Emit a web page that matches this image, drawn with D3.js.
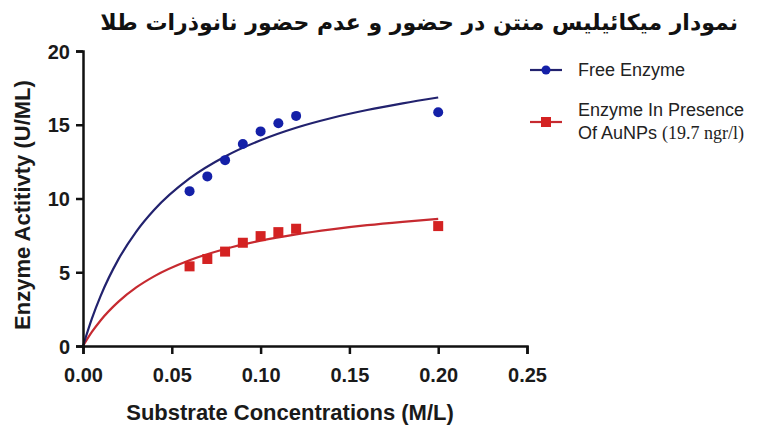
<!DOCTYPE html>
<html>
<head>
<meta charset="utf-8">
<script src="https://cdn.jsdelivr.net/npm/d3@7"></script>
<style>
  body { margin: 0; background: #fff; }
  text { font-family: "Liberation Sans", Arial, sans-serif; }
</style>
</head>
<body>
<svg id="chart" width="760" height="428"></svg>
<script>
// measured points
var substrate = [0.06, 0.07, 0.08, 0.09, 0.10, 0.11, 0.12, 0.20];
var freeEnzyme = [10.5, 11.5, 12.6, 13.7, 14.55, 15.1, 15.6, 15.85];
var withAuNPs = [5.4, 5.9, 6.4, 7.0, 7.45, 7.72, 7.95, 8.13];

// fitted curves
var fitX = [0, 0.005, 0.01, 0.02, 0.03, 0.04, 0.06, 0.08, 0.10, 0.12, 0.14, 0.16, 0.18, 0.20];
var freeFit = [0, 1.86, 3.42, 5.89, 7.76, 9.22, 11.36, 12.85, 13.95, 14.8, 15.46, 16.0, 16.45, 16.85];
var auFit = [0, 0.95, 1.75, 3.01, 3.97, 4.72, 5.81, 6.58, 7.14, 7.57, 7.91, 8.19, 8.42, 8.62];

var xTicks = [0, 0.05, 0.10, 0.15, 0.20, 0.25];
var yTicks = [0, 5, 10, 15, 20];

var svg = d3.select("#chart");
var margin = { top: 51, left: 83 };
var width = 444, height = 295;

var x = d3.scaleLinear().domain([0, 0.25]).range([0, width]);
var y = d3.scaleLinear().domain([0, 20]).range([height, 0]);

var g = svg.append("g")
    .attr("transform", "translate(" + margin.left + "," + margin.top + ")");

// curves
var line = d3.line()
    .x(function(d) { return x(d[0]); })
    .y(function(d) { return y(d[1]); })
    .curve(d3.curveMonotoneX);

g.append("path")
    .datum(d3.zip(fitX, auFit))
    .attr("d", line)
    .attr("fill", "none")
    .attr("stroke", "#c62a30")
    .attr("stroke-width", 2.2);

g.append("path")
    .datum(d3.zip(fitX, freeFit))
    .attr("d", line)
    .attr("fill", "none")
    .attr("stroke", "#22226e")
    .attr("stroke-width", 2.2);

// points
g.selectAll(".pt-free")
    .data(d3.zip(substrate, freeEnzyme))
    .enter().append("circle")
    .attr("cx", function(d) { return x(d[0]); })
    .attr("cy", function(d) { return y(d[1]); })
    .attr("r", 5)
    .attr("fill", "#1420a8");

g.selectAll(".pt-au")
    .data(d3.zip(substrate, withAuNPs))
    .enter().append("rect")
    .attr("x", function(d) { return x(d[0]) - 5; })
    .attr("y", function(d) { return y(d[1]) - 5; })
    .attr("width", 10)
    .attr("height", 10)
    .attr("fill", "#d42222");

// axes
var xAxis = g.append("g")
    .attr("transform", "translate(0," + height + ")")
    .call(d3.axisBottom(x).tickValues(xTicks).tickFormat(d3.format(".2f")).tickSizeOuter(0).tickSize(8).tickPadding(14));

var yAxis = g.append("g")
    .call(d3.axisLeft(y).tickValues(yTicks).tickSizeOuter(0).tickSize(7).tickPadding(6));

[xAxis, yAxis].forEach(function(a) {
    a.select(".domain").attr("stroke", "#111").attr("stroke-width", 2.5);
    a.selectAll(".tick line").attr("stroke", "#111").attr("stroke-width", 2.5);
    a.selectAll(".tick text")
        .attr("fill", "#1a1a1a")
        .style("font-family", "Liberation Sans, Arial, sans-serif")
        .style("font-size", "20px")
        .style("font-weight", "bold");
});
yAxis.selectAll(".tick text").attr("dy", "0.36em");

// axis titles
svg.append("text")
    .attr("x", 290)
    .attr("y", 420)
    .attr("text-anchor", "middle")
    .style("font-size", "22px")
    .style("font-weight", "bold")
    .attr("fill", "#1a1a1a")
    .text("Substrate Concentrations (M/L)");

svg.append("text")
    .attr("transform", "translate(30,205) rotate(-90)")
    .attr("text-anchor", "middle")
    .style("font-size", "22px")
    .style("font-weight", "bold")
    .attr("fill", "#1a1a1a")
    .text("Enzyme Actitivty (U/ML)");

// title
svg.append("text")
    .attr("x", 738)
    .attr("y", 30)
    .attr("text-anchor", "start")
    .attr("direction", "rtl")
    .style("font-family", "DejaVu Sans, Noto Sans, sans-serif")
    .style("font-size", "22px")
    .style("font-weight", "bold")
    .attr("fill", "#111")
    .text("نمودار میکائیلیس منتن در حضور و عدم حضور نانوذرات طلا");

// legend
var legend = svg.append("g");
legend.append("line").attr("x1", 530).attr("x2", 562).attr("y1", 70).attr("y2", 70)
    .attr("stroke", "#22226e").attr("stroke-width", 2.2);
legend.append("circle").attr("cx", 546).attr("cy", 70).attr("r", 4.5).attr("fill", "#1420a8");
legend.append("text").attr("x", 578).attr("y", 76)
    .style("font-size", "18px").attr("fill", "#222").text("Free Enzyme");

legend.append("line").attr("x1", 530).attr("x2", 562).attr("y1", 122).attr("y2", 122)
    .attr("stroke", "#c62a30").attr("stroke-width", 2.2);
legend.append("rect").attr("x", 541).attr("y", 117).attr("width", 10).attr("height", 10).attr("fill", "#d42222");
legend.append("text").attr("x", 578).attr("y", 116)
    .style("font-size", "18px").attr("fill", "#222").text("Enzyme In Presence");
var t2 = legend.append("text").attr("x", 578).attr("y", 139)
    .style("font-size", "18px").attr("fill", "#222");
t2.append("tspan").text("Of AuNPs ");
t2.append("tspan").style("font-family", "Liberation Serif, Times New Roman, serif").style("font-size", "18px").text("(19.7 ngr/l)");
</script>
</body>
</html>
